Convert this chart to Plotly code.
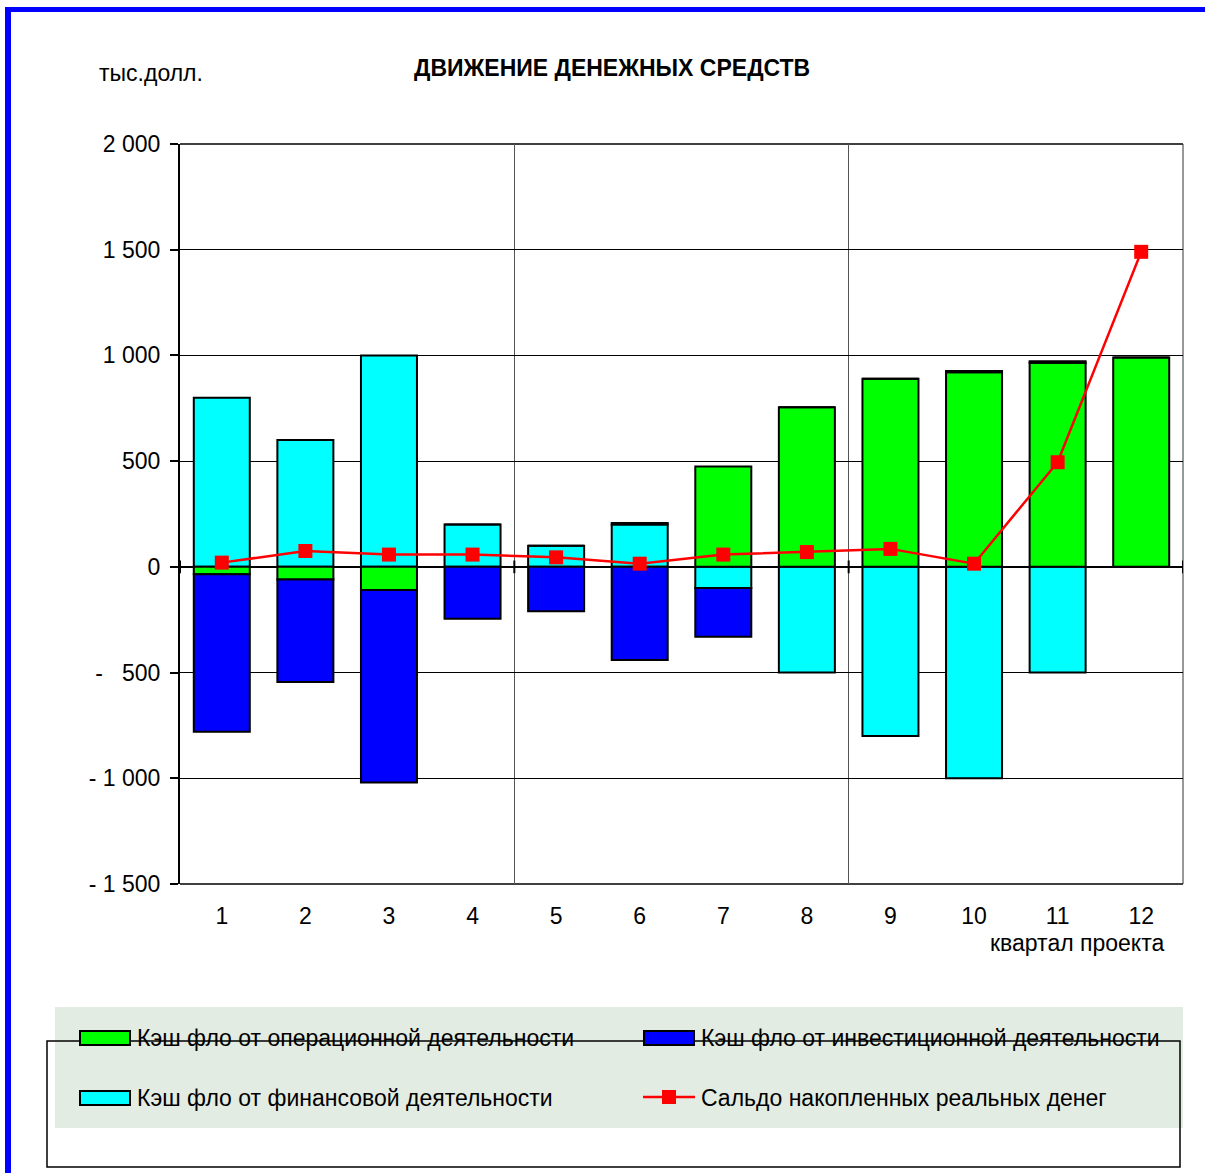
import plotly.graph_objects as go

# Quarterly cash flows, thousand USD
quarters = [1, 2, 3, 4, 5, 6, 7, 8, 9, 10, 11, 12]
quarter_labels = ["1", "2", "3", "4", "5", "6", "7", "8", "9", "10", "11", "12"]
financing = [800, 600, 1000, 200, 100, 200, -100, -500, -800, -1000, -500, 0]
operating = [-35, -60, -110, 0, 0, 8, 475, 755, 890, 920, 965, 990]
investing = [-745, -485, -910, -245, -210, -440, -230, 0, 0, 6, 8, 0]
balance = [20, 75, 58, 58, 45, 15, 58, 70, 85, 15, 495, 1490]

y_ticks = [-1500, -1000, -500, 0, 500, 1000, 1500, 2000]
y_tick_labels = ["- 1 500", "- 1 000", "-\u2007\u00a0500", "0",
                 "500", "1 000", "1 500", "2 000"]

names = {
    "op": "Кэш фло от операционной деятельности",
    "inv": "Кэш фло от инвестиционной деятельности",
    "fin": "Кэш фло от финансовой деятельности",
    "bal": "Сальдо накопленных реальных денег",
}

FONT = "Liberation Sans, Arial, sans-serif"
FS = 23
GREEN, BLUE, CYAN, RED = "#00ff00", "#0000ff", "#00ffff", "#ff0000"

# plot area in pixels
L, R, T, B = 180, 1183, 144, 884
W, H = R - L, B - T


def px(x):
    return (x - L) / W


def py(y):
    return (B - y) / H


fig = go.Figure()
bar_line = dict(color="black", width=2)
fig.add_trace(go.Bar(x=quarters, y=financing, name=names["fin"],
                     marker=dict(color=CYAN, line=bar_line)))
fig.add_trace(go.Bar(x=quarters, y=operating, name=names["op"],
                     marker=dict(color=GREEN, line=bar_line)))
fig.add_trace(go.Bar(x=quarters, y=investing, name=names["inv"],
                     marker=dict(color=BLUE, line=bar_line)))
fig.add_trace(go.Scatter(x=quarters, y=balance, name=names["bal"],
                         mode="lines+markers",
                         line=dict(color=RED, width=2.5),
                         marker=dict(symbol="square", size=14, color=RED)))

shapes = []
# page frame
shapes.append(dict(type="rect", xref="paper", yref="paper",
                   x0=px(5), x1=px(1230), y0=py(7), y1=py(12),
                   fillcolor=BLUE, line=dict(width=0), layer="above"))
shapes.append(dict(type="rect", xref="paper", yref="paper",
                   x0=px(5), x1=px(11), y0=py(7), y1=py(1200),
                   fillcolor=BLUE, line=dict(width=0), layer="above"))
# plot-area border: top, bottom and right edges
for yv in [0, 1]:
    shapes.append(dict(type="line", xref="paper", yref="paper",
                       x0=0, x1=1, y0=yv, y1=yv,
                       line=dict(color="black", width=1.3), layer="below"))
shapes.append(dict(type="line", xref="paper", yref="paper",
                   x0=1, x1=1, y0=0, y1=1,
                   line=dict(color="#333333", width=1), layer="below"))
# small crossing ticks on the category axis at zero
for xv in [0.5, 4.5, 8.5, 12.5]:
    shapes.append(dict(type="line", xref="x", yref="y",
                       x0=xv, x1=xv, y0=-30, y1=30,
                       line=dict(color="black", width=2), layer="above"))
# legend panel
shapes.append(dict(type="rect", xref="paper", yref="paper",
                   x0=px(55), x1=px(1183), y0=py(1128), y1=py(1007),
                   fillcolor="#e3ece3", line=dict(width=0), layer="below"))
shapes.append(dict(type="rect", xref="paper", yref="paper",
                   x0=px(47), x1=px(1180), y0=py(1167), y1=py(1041),
                   line=dict(color="black", width=1.5), layer="above"))

legend_items = [
    (80, 1038, GREEN, names["op"]),
    (644, 1038, BLUE, names["inv"]),
    (80, 1098, CYAN, names["fin"]),
]
annotations = []
for x0, yc, col, txt in legend_items:
    shapes.append(dict(type="rect", xref="paper", yref="paper",
                       x0=px(x0), x1=px(x0 + 50), y0=py(yc + 7), y1=py(yc - 7),
                       fillcolor=col, line=dict(color="black", width=2),
                       layer="above"))
    annotations.append(dict(xref="paper", yref="paper", x=px(x0 + 55), y=py(yc),
                            xanchor="left", yanchor="middle", showarrow=False,
                            text=txt, font=dict(family=FONT, size=FS, color="black")))
shapes.append(dict(type="line", xref="paper", yref="paper",
                   x0=px(643), x1=px(695), y0=py(1097), y1=py(1097),
                   line=dict(color=RED, width=2.5), layer="above"))
shapes.append(dict(type="rect", xref="paper", yref="paper",
                   x0=px(662), x1=px(676), y0=py(1104), y1=py(1090),
                   fillcolor=RED, line=dict(width=0), layer="above"))
annotations.append(dict(xref="paper", yref="paper", x=px(699), y=py(1098),
                        xanchor="left", yanchor="middle", showarrow=False,
                        text=names["bal"], font=dict(family=FONT, size=FS, color="black")))

annotations.append(dict(xref="paper", yref="paper", x=px(97), y=py(73),
                        xanchor="left", yanchor="middle", showarrow=False,
                        text="тыс.долл.", font=dict(family=FONT, size=FS, color="black")))
annotations.append(dict(xref="paper", yref="paper", x=px(612), y=py(68),
                        xanchor="center", yanchor="middle", showarrow=False,
                        text="<b>ДВИЖЕНИЕ ДЕНЕЖНЫХ СРЕДСТВ</b>",
                        font=dict(family=FONT, size=FS, color="black")))
annotations.append(dict(xref="paper", yref="paper", x=px(1166), y=py(943),
                        xanchor="right", yanchor="middle", showarrow=False,
                        text="квартал проекта",
                        font=dict(family=FONT, size=FS, color="black")))

fig.update_layout(
    width=1205, height=1173,
    margin=dict(l=L, r=1205 - R, t=T, b=1173 - B),
    paper_bgcolor="white", plot_bgcolor="white",
    barmode="relative", bargap=0.33,
    showlegend=False,
    font=dict(family=FONT, size=FS, color="black"),
    shapes=shapes, annotations=annotations,
)
fig.update_xaxes(
    range=[0.5, 12.5], tickvals=quarters, ticktext=quarter_labels,
    showgrid=False, zeroline=False, showline=False, ticks="",
    ticklabelstandoff=16,
    tickfont=dict(family=FONT, size=FS, color="black"),
    minor=dict(tickvals=[4.5, 8.5], showgrid=True,
               gridcolor="#555555", gridwidth=1, ticks=""),
)
fig.update_yaxes(
    range=[-1500, 2000], tickvals=y_ticks, ticktext=y_tick_labels,
    showgrid=True, gridcolor="black", gridwidth=1.3,
    zeroline=True, zerolinecolor="black", zerolinewidth=2,
    showline=True, linecolor="black", linewidth=2,
    ticks="outside", ticklen=8, tickwidth=2, tickcolor="black",
    ticklabelstandoff=5,
    tickfont=dict(family=FONT, size=FS, color="black"),
)

fig.write_html("out.html")
